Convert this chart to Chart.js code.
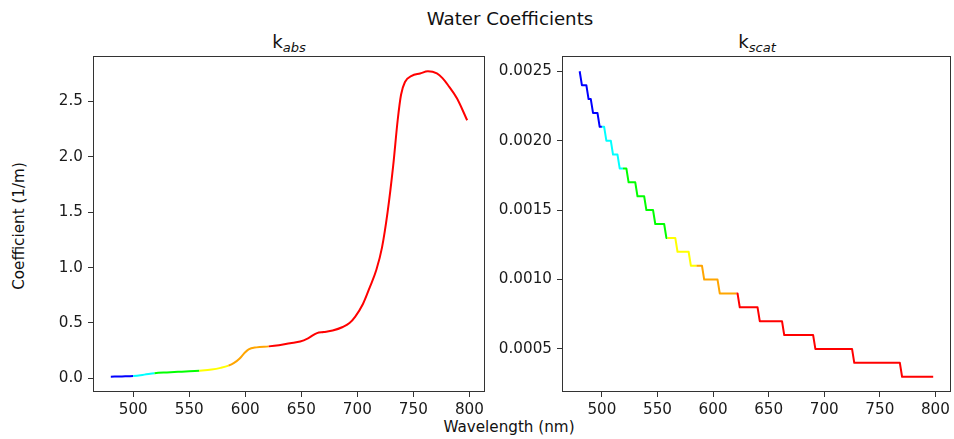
<!DOCTYPE html>
<html>
<head>
<meta charset="utf-8">
<title>Water Coefficients</title>
<script src="https://cdn.jsdelivr.net/npm/chart.js@4"></script>
<style>
    body {
        margin: 0;
        width: 954px;
        height: 439px;
        position: relative;
        overflow: hidden;
        background: #fff;
        font-family: "DejaVu Sans", sans-serif;
        color: #111;
    }
    canvas { position: absolute; top: 0; }
    #absChart { left: 0; }
    #scatChart { left: 488px; }
    .label {
        position: absolute;
        white-space: nowrap;
        line-height: 1;
        transform: translate(-50%, -50%);
    }
    .label sub {
        font-style: italic;
        font-size: 0.72em;
        vertical-align: baseline;
        position: relative;
        top: 0.3em;
    }
    #suptitle { left: 510px; top: 19px; font-size: 18.2px; }
    #absTitle { left: 289px; top: 42px; font-size: 18.2px; }
    #scatTitle { left: 757px; top: 42px; font-size: 18.2px; }
    #xlabel { left: 509px; top: 428px; font-size: 15.2px; }
    #ylabel { left: 20px; top: 226px; font-size: 15.2px; transform: translate(-50%, -50%) rotate(-90deg); }
</style>
</head>
<body>
<div class="label" id="suptitle">Water Coefficients</div>
<div class="label" id="absTitle">k<sub>abs</sub></div>
<div class="label" id="scatTitle">k<sub>scat</sub></div>
<div class="label" id="xlabel">Wavelength (nm)</div>
<div class="label" id="ylabel">Coefficient (1/m)</div>
<canvas id="absChart" width="488" height="439"></canvas>
<canvas id="scatChart" width="466" height="439"></canvas>
<script>
// absorption curve
const absWavelengths = [480, 490, 500, 510, 519, 530, 540, 550, 559, 570, 578, 585, 590, 595, 599, 603, 610, 621,
    630, 640, 649, 656, 664, 670, 678, 687, 693, 698, 705, 711, 717, 722, 727, 732, 736, 739, 742.5, 748.5,
    756, 763, 771, 776, 781, 789, 798];
const absValues = [0.015, 0.018, 0.022, 0.034, 0.047, 0.054, 0.059, 0.064, 0.070, 0.080, 0.095, 0.115, 0.140, 0.180,
    0.226, 0.262, 0.280, 0.289, 0.300, 0.318, 0.333, 0.362, 0.409, 0.418, 0.432, 0.464, 0.500, 0.556, 0.672, 0.820,
    0.980, 1.180, 1.500, 1.920, 2.330, 2.560, 2.675, 2.730, 2.752, 2.772, 2.752, 2.710, 2.646, 2.526, 2.330];

// scattering steps
const scatWavelengths = [480, 482, 486, 488, 490, 492, 496, 498, 500, 502, 504, 508, 510, 514, 516, 519, 522, 524,
    530, 532, 538, 540, 546, 548, 556, 558, 559, 566, 568, 578, 580, 585, 590, 592, 604, 606, 621, 622, 624, 640,
    642, 662, 664, 690, 692, 725, 727, 768, 770, 798];
const scatValues = [0.0025, 0.0024, 0.0024, 0.0023, 0.0023, 0.0022, 0.0022, 0.0021, 0.0021, 0.0021, 0.0020, 0.0020,
    0.0019, 0.0019, 0.0018, 0.0018, 0.0018, 0.0017, 0.0017, 0.0016, 0.0016, 0.0015, 0.0015, 0.0014, 0.0014, 0.0013,
    0.0013, 0.0013, 0.0012, 0.0012, 0.0011, 0.0011, 0.0011, 0.0010, 0.0010, 0.0009, 0.0009, 0.0009, 0.0008, 0.0008,
    0.0007, 0.0007, 0.0006, 0.0006, 0.0005, 0.0005, 0.0004, 0.0004, 0.0003, 0.0003];

const bandEdges = [500, 519, 559, 585, 621];
const bandColors = ["#0000ff", "#00ffff", "#00ff00", "#ffff00", "#ffa500", "#ff0000"];

const wavelengthTicks = [500, 550, 600, 650, 700, 750, 800];
const absTicks = [0, 0.5, 1, 1.5, 2, 2.5];
const scatTicks = [0.0005, 0.001, 0.0015, 0.002, 0.0025];

const axisColor = "#333";
const textColor = "#1a1a1a";

function bandColor(nm) {
    let i = 0;
    while (i < bandEdges.length && nm >= bandEdges[i]) i++;
    return bandColors[i];
}

// matplotlib-like 5% margins
function limits(values) {
    const lo = Math.min(...values), hi = Math.max(...values);
    const m = (hi - lo) * 0.05;
    return { min: lo - m, max: hi + m };
}

const frame = {
    id: "frame",
    afterDraw(chart) {
        const { ctx, chartArea: a } = chart;
        ctx.save();
        ctx.strokeStyle = axisColor;
        ctx.lineWidth = 1;
        const l = Math.round(a.left) + 0.5, t = Math.round(a.top) + 0.5;
        const r = Math.round(a.right) - 0.5, b = Math.round(a.bottom) - 0.5;
        ctx.strokeRect(l, t, r - l, b - t);
        ctx.restore();
    }
};

function makeChart(id, xs, ys, yTicks, digits, yWidth, padRight, tension) {
    const xl = limits(xs), yl = limits(ys);
    const font = { family: "'DejaVu Sans', sans-serif", size: 15.2 };
    return new Chart(document.getElementById(id).getContext("2d"), {
        type: "line",
        data: {
            datasets: [{
                data: xs.map((x, i) => ({ x: x, y: ys[i] })),
                borderWidth: 2,
                pointRadius: 0,
                tension: tension,
                cubicInterpolationMode: tension ? "monotone" : "default",
                borderJoinStyle: "round",
                segment: {
                    borderColor: c => bandColor((c.p0.parsed.x + c.p1.parsed.x) / 2)
                }
            }]
        },
        options: {
            responsive: false,
            animation: false,
            layout: { padding: { top: 56, right: padRight, left: 0, bottom: 0 } },
            plugins: { legend: { display: false }, tooltip: { enabled: false } },
            scales: {
                x: {
                    type: "linear",
                    min: xl.min,
                    max: xl.max,
                    afterBuildTicks: axis => { axis.ticks = wavelengthTicks.map(v => ({ value: v })); },
                    afterFit: axis => { axis.height = 47; },
                    border: { display: false },
                    grid: { drawOnChartArea: false, tickLength: 5, tickColor: axisColor, tickWidth: 1 },
                    ticks: { color: textColor, font: font, padding: 4, maxRotation: 0, callback: v => v }
                },
                y: {
                    type: "linear",
                    min: yl.min,
                    max: yl.max,
                    afterBuildTicks: axis => { axis.ticks = yTicks.map(v => ({ value: v })); },
                    afterFit: axis => { axis.width = yWidth; },
                    border: { display: false },
                    grid: { drawOnChartArea: false, tickLength: 5, tickColor: axisColor, tickWidth: 1 },
                    ticks: { color: textColor, font: font, padding: 5, callback: v => v.toFixed(digits) }
                }
            }
        },
        plugins: [frame]
    });
}

makeChart("absChart", absWavelengths, absValues, absTicks, 1, 93, 3, 0.4);
makeChart("scatChart", scatWavelengths, scatValues, scatTicks, 4, 74, 2, 0);
</script>
</body>
</html>
